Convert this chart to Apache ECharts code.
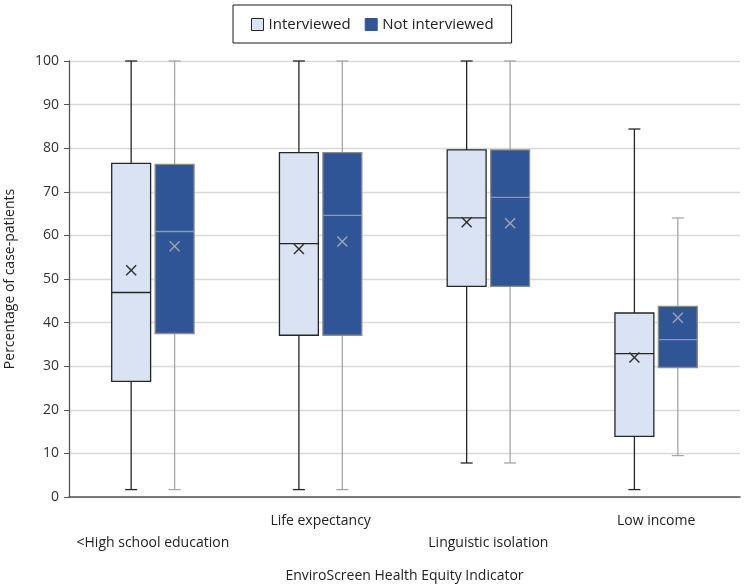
<!DOCTYPE html>
<html>
<head>
<meta charset="utf-8">
<script src="https://cdn.jsdelivr.net/npm/echarts@6/dist/echarts.min.js"></script>
<style>html,body{margin:0;padding:0;background:#fff}#c{width:746px;height:587px}</style>
</head>
<body>
<div id="c"></div>
<script>
const categories = ['<High school education', 'Life expectancy', 'Linguistic isolation', 'Low income'];
// [min, Q1, median, Q3, max]
const interviewedBox = [
  [1.7, 26.5, 46.9, 76.5, 100],
  [1.7, 37.1, 58.1, 79.0, 100],
  [7.8, 48.3, 64.0, 79.6, 100],
  [1.7, 13.9, 32.9, 42.2, 84.4]
];
const interviewedMean = [52.0, 56.9, 63.0, 32.0];
const notInterviewedBox = [
  [1.7, 37.5, 60.9, 76.3, 100],
  [1.7, 37.1, 64.6, 79.0, 100],
  [7.8, 48.3, 68.7, 79.6, 100],
  [9.5, 29.7, 36.1, 43.7, 64.0]
];
const notInterviewedMean = [57.5, 58.6, 62.8, 41.1];
const yTicks = [0, 10, 20, 30, 40, 50, 60, 70, 80, 90, 100];

const FONT = '"Open Sans", Lato, sans-serif';

function makeData(box, mean) {
  return box.map((b, i) => [i, b[0], b[1], b[2], b[3], b[4], mean[i]]);
}

function makeRender(offsetFrac, st) {
  return function (params, api) {
    const idx = api.value(0);
    const mn = api.value(1), q1 = api.value(2), md = api.value(3), q3 = api.value(4), mx = api.value(5), mean = api.value(6);
    const band = api.size([1, 0])[0];
    const cx = api.coord([idx, 0])[0] + band * offsetFrac;
    const half = band * 0.116;
    const cap = 6;
    const y = v => api.coord([idx, v])[1];
    const lw = { stroke: st.whisker, lineWidth: 1.3 };
    const ym = y(mean), cs = 5;
    return {
      type: 'group',
      children: [
        { type: 'line', shape: { x1: cx, y1: y(mx), x2: cx, y2: y(q3) }, style: lw },
        { type: 'line', shape: { x1: cx, y1: y(q1), x2: cx, y2: y(mn) }, style: lw },
        { type: 'line', shape: { x1: cx - cap, y1: y(mx), x2: cx + cap, y2: y(mx) }, style: lw },
        { type: 'line', shape: { x1: cx - cap, y1: y(mn), x2: cx + cap, y2: y(mn) }, style: lw },
        { type: 'rect', shape: { x: cx - half, y: y(q3), width: half * 2, height: y(q1) - y(q3) },
          style: { fill: st.fill, stroke: st.border, lineWidth: 1.3 } },
        { type: 'line', shape: { x1: cx - half, y1: y(md), x2: cx + half, y2: y(md) }, style: { stroke: st.median, lineWidth: 1.3 } },
        { type: 'line', shape: { x1: cx - cs, y1: ym - cs, x2: cx + cs, y2: ym + cs }, style: { stroke: st.mean, lineWidth: 1.5 } },
        { type: 'line', shape: { x1: cx - cs, y1: ym + cs, x2: cx + cs, y2: ym - cs }, style: { stroke: st.mean, lineWidth: 1.5 } }
      ]
    };
  };
}

const stInt = { fill: '#DAE3F3', border: '#262626', whisker: '#262626', median: '#262626', mean: '#333333' };
const stNot = { fill: '#2F5597', border: '#8C8C8C', whisker: '#A6A6A6', median: '#8C98B0', mean: '#9AA3B5' };

const chart = echarts.init(document.getElementById('c'), null, { renderer: 'canvas' });
chart.setOption({
  animation: false,
  textStyle: { fontFamily: FONT },
  legend: {
    top: 5,
    left: 233,
    padding: [12, 18, 11, 18],
    borderColor: '#1a1a1a',
    borderWidth: 1,
    itemWidth: 12,
    itemHeight: 12,
    itemGap: 14,
    textStyle: { fontFamily: FONT, fontSize: 15, color: '#222' },
    data: [
      { name: 'Interviewed', icon: 'rect', itemStyle: { color: '#DAE3F3', borderColor: '#262626', borderWidth: 1 } },
      { name: 'Not interviewed', icon: 'rect', itemStyle: { color: '#2F5597', borderColor: '#2F5597', borderWidth: 1 } }
    ]
  },
  grid: { left: 69, right: 6, top: 61, bottom: 90, outerBoundsMode: 'none', containLabel: false },
  xAxis: {
    type: 'category',
    data: categories,
    name: 'EnviroScreen Health Equity Indicator',
    nameLocation: 'middle',
    nameGap: 72,
    nameTextStyle: { fontFamily: FONT, fontSize: 14, color: '#222' },
    axisLine: { lineStyle: { color: '#555', width: 1.5 } },
    axisTick: { show: false },
    axisLabel: {
      interval: 0,
      fontFamily: FONT,
      fontSize: 14,
      color: '#222',
      formatter: function (v, i) { return i % 2 === 0 ? '\n' + v : v; },
      lineHeight: 22,
      margin: 13
    }
  },
  yAxis: {
    type: 'value',
    min: 0, max: 100, interval: 10,
    name: 'Percentage of case-patients',
    nameLocation: 'middle',
    nameGap: 52,
    nameTextStyle: { fontFamily: FONT, fontSize: 14, color: '#222' },
    axisLine: { show: true, lineStyle: { color: '#555', width: 1.3 } },
    axisTick: { show: true, length: 5, inside: false, lineStyle: { color: '#555' } },
    axisLabel: { fontFamily: FONT, fontSize: 14, color: '#333', margin: 10,
      formatter: v => yTicks.includes(v) ? String(v) : '' },
    splitLine: { lineStyle: { color: '#D9D9D9', width: 1.3 } }
  },
  series: [
    {
      name: 'Interviewed',
      type: 'custom',
      itemStyle: { color: '#DAE3F3', borderColor: '#262626' },
      encode: { x: 0, y: [1, 2, 3, 4, 5] },
      renderItem: makeRender(-0.1295, stInt),
      data: makeData(interviewedBox, interviewedMean)
    },
    {
      name: 'Not interviewed',
      type: 'custom',
      itemStyle: { color: '#2F5597', borderColor: '#2F5597' },
      encode: { x: 0, y: [1, 2, 3, 4, 5] },
      renderItem: makeRender(0.1295, stNot),
      data: makeData(notInterviewedBox, notInterviewedMean)
    }
  ]
});
</script>
</body>
</html>
